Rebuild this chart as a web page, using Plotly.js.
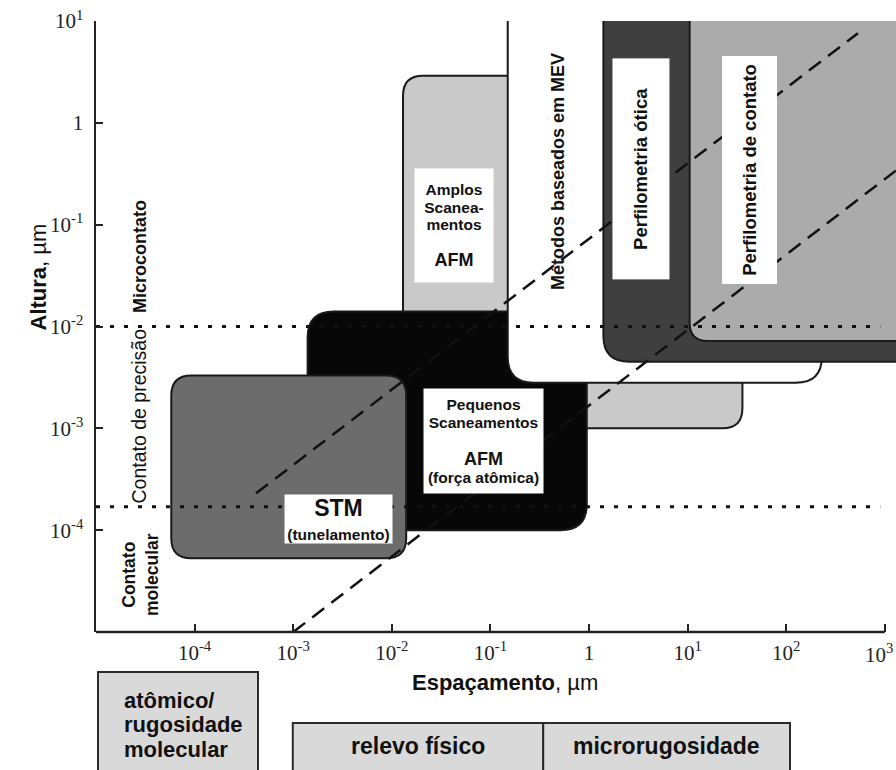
<!DOCTYPE html>
<html>
<head>
<meta charset="utf-8">
<script src="https://cdn.plot.ly/plotly-3.0.1.min.js"></script>
<style>html,body{margin:0;padding:0;background:#fff}</style>
</head>
<body>
<div id="myGraph" style="width:896px;height:770px"></div>
<script>
//ranges covered by each technique, in µm (x = espaçamento, y = altura)
const techniques = ["Amplos Scaneamentos AFM", "Pequenos Scaneamentos AFM", "STM",
  "Métodos baseados em MEV", "Perfilometria ótica", "Perfilometria de contato"];
const spacingMin = [1.3e-2, 1.4e-3, 5.8e-5, 0.15, 1.4, 10.5];
const spacingMax = [36, 0.95, 1.4e-2, 230, 1e4, 1e4];
const heightMin = [1e-3, 1e-4, 5.3e-5, 2.8e-3, 4.5e-3, 7.2e-3];
const heightMax = [2.9, 1.4e-2, 3.3e-3, 100, 40, 40];

//limits between contact regimes (altura, µm)
const contactLimits = [1e-2, 1.7e-4];
const contactSpan = [1e-5, 900];

//the two dashed diagonal lines
const lineAx = [4.2e-4, 535];
const lineAy = [2.3e-4, 7.6];
const lineBx = [1e-3, 1300];
const lineBy = [1e-5, 0.34];

//tick labels (the last x label sits at the right edge, drawn separately below)
const xTickVals = [1e-4, 1e-3, 1e-2, 1e-1, 1, 10, 100, 1000];
const xTickText = ["10<sup>-4</sup>", "10<sup>-3</sup>", "10<sup>-2</sup>", "10<sup>-1</sup>", "1",
  "10<sup>1</sup>", "10<sup>2</sup>", ""];
const lastXLabel = "10<sup>3</sup>";
const yTickVals = [10, 1, 1e-1, 1e-2, 1e-3, 1e-4];
const yTickText = ["10<sup>1</sup>", "1", "10<sup>-1</sup>", "10<sup>-2</sup>", "10<sup>-3</sup>", "10<sup>-4</sup>"];

//box styles (fill colour and corner radius in px)
const boxStyle = {
  "Amplos Scaneamentos AFM": {fill: "#c9c9c9", r: 20},
  "Pequenos Scaneamentos AFM": {fill: "#070707", r: 26},
  "STM": {fill: "#6c6c6c", r: 20},
  "Métodos baseados em MEV": {fill: "#ffffff", r: 26},
  "Perfilometria ótica": {fill: "#3f3f3f", r: 26},
  "Perfilometria de contato": {fill: "#ababab", r: 18},
};

const W = 896, H = 770;
const margin = {l: 96, r: 0, t: 21, b: 138, pad: 0};
const xRange = [-5, 3.114];
const yRange = [-5, 1];
const decX = (xRange[1] - xRange[0]) / (W - margin.l - margin.r);
const decY = (yRange[1] - yRange[0]) / (H - margin.t - margin.b);

//rounded rectangle path in data values (log axes)
function roundedBox(x0, x1, y0, y1, r) {
  const a = Math.log10(x0), b = Math.log10(x1), c = Math.log10(y0), d = Math.log10(y1);
  const rx = r * decX, ry = r * decY;
  const p = (lx, ly) => Math.pow(10, lx).toPrecision(6) + "," + Math.pow(10, ly).toPrecision(6);
  return "M" + p(a + rx, d) + " L" + p(b - rx, d) + " Q" + p(b, d) + " " + p(b, d - ry) +
    " L" + p(b, c + ry) + " Q" + p(b, c) + " " + p(b - rx, c) +
    " L" + p(a + rx, c) + " Q" + p(a, c) + " " + p(a, c + ry) +
    " L" + p(a, d - ry) + " Q" + p(a, d) + " " + p(a + rx, d) + " Z";
}

let shapes = [];
techniques.forEach((name, i) => {
  shapes.push({
    type: "path", xref: "x", yref: "y", layer: "below",
    path: roundedBox(spacingMin[i], spacingMax[i], heightMin[i], heightMax[i], boxStyle[name].r),
    fillcolor: boxStyle[name].fill,
    line: {color: "#1a1a1a", width: 2},
  });
});

//x axis line stops at 10^3
const lastTickPaper = (Math.log10(xTickVals[xTickVals.length - 1]) - xRange[0]) / (xRange[1] - xRange[0]);
shapes.push({
  type: "line", xref: "paper", yref: "paper", layer: "above",
  x0: 0, x1: lastTickPaper, y0: 0, y1: 0,
  line: {color: "#222", width: 2.5},
});

//category boxes under the x axis
const grayBox = {type: "rect", xref: "paper", yref: "paper", fillcolor: "#d9d9d9",
  line: {color: "#2a2a2a", width: 2}, layer: "above"};
shapes.push(Object.assign({}, grayBox, {x0: 0.0025, x1: 0.2025, y0: -0.0655, y1: -0.26}));
shapes.push(Object.assign({}, grayBox, {x0: 0.246, x1: 0.559, y0: -0.149, y1: -0.26}));
shapes.push(Object.assign({}, grayBox, {x0: 0.559, x1: 0.8675, y0: -0.149, y1: -0.26}));

let data = [];
contactLimits.forEach(v => {
  data.push({
    x: contactSpan, y: [v, v], type: "scatter", mode: "lines", hoverinfo: "skip",
    line: {color: "#111", width: 3, dash: "4px,10px"},
  });
});
[[lineAx, lineAy], [lineBx, lineBy]].forEach(([lx, ly]) => {
  data.push({
    x: lx, y: ly, type: "scatter", mode: "lines", hoverinfo: "skip",
    line: {color: "#111", width: 2.5, dash: "15px,9px"},
  });
});

const sans = "Liberation Sans, Arial, sans-serif";
const tickFont = {family: "Liberation Serif, Times New Roman, serif", size: 21, color: "#222"};

function label(x, y, text, opts) {
  return Object.assign({
    xref: "x", yref: "y", x: x, y: y, text: text, showarrow: false,
    font: {family: sans, size: 18, weight: "bold", color: "#111"},
  }, opts);
}
function whiteBox(x, y, w, h, text, size, angle) {
  return label(x, y, text, {bgcolor: "#ffffff", width: w, height: h, borderpad: 0,
    textangle: angle || 0, font: {family: sans, size: size, weight: "bold", color: "#111"}});
}
function paperText(x, y, text, size, anchor) {
  return {xref: "paper", yref: "paper", x: x, y: y, text: text, showarrow: false,
    xanchor: anchor || "center", yanchor: "middle",
    font: {family: sans, size: size, weight: "bold", color: "#111"}};
}
const s = (px, t) => "<span style='font-size:" + px + "px'>" + t + "</span>";

let annotations = [
  //axis titles
  {xref: "paper", yref: "paper", x: 0.511, y: -0.1064, showarrow: false,
    text: "<b>Espaçamento</b>, µm", font: {family: sans, size: 22, color: "#111"}},
  {xref: "paper", yref: "paper", x: -0.09, y: 0.581, showarrow: false, textangle: -90,
    text: "<b>Altura</b>, µm", font: {family: sans, size: 22, color: "#111"}},
  //last x tick label, pulled in from the right edge
  {xref: "paper", yref: "paper", x: lastTickPaper, y: 0, xanchor: "right", yanchor: "top",
    xshift: 10, yshift: -6, showarrow: false, text: lastXLabel, font: tickFont},
  //contact regimes
  label(-4.554, -1.308, "Microcontato", {textangle: -90}),
  label(-4.559, -2.879, "Contato de precisão", {textangle: -90,
    font: {family: sans, size: 19.5, color: "#111"}}),
  label(-4.554, -4.431, "Contato<br>molecular", {textangle: -90,
    font: {family: sans, size: 17.5, weight: "bold", color: "#111"}}),
  //techniques
  label(-0.314, -0.483, "Métodos baseados em MEV", {textangle: -90}),
  whiteBox(0.527, -0.453, 220, 56, "Perfilometria ótica", 18.5, -90),
  whiteBox(1.633, -0.458, 227, 54, "Perfilometria de contato", 18.5, -90),
  whiteBox(-1.369, -1.008, 78, 113,
    s(15.5, "Amplos") + "<br>" + s(15.5, "Scanea-") + "<br>" + s(15.5, "mentos") + "<br><br>" + s(18, "AFM"), 13.5),
  whiteBox(-1.070, -3.125, 119, 104,
    s(15.5, "Pequenos") + "<br>" + s(15.5, "Scaneamentos") + "<br><br>" + s(18, "AFM") + "<br>" + s(15.5, "(força atômica)"), 14),
  whiteBox(-2.541, -3.890, 107, 48, s(23, "STM") + "<br>" + s(15.5, "(tunelamento)"), 18),
  //category boxes
  paperText(0.0325, -0.1113, "atômico/", 22, "left"),
  paperText(0.0325, -0.1522, "rugosidade", 22, "left"),
  paperText(0.0325, -0.1931, "molecular", 22, "left"),
  paperText(0.4025, -0.1866, "relevo físico", 23),
  paperText(0.7125, -0.1866, "microrugosidade", 23),
];

const layout = {
  width: W, height: H, margin: margin,
  paper_bgcolor: "#fff", plot_bgcolor: "rgba(0,0,0,0)",
  showlegend: false,
  xaxis: {
    type: "log", range: xRange, tickmode: "array", tickvals: xTickVals, ticktext: xTickText,
    ticks: "inside", ticklen: 8, tickwidth: 2, tickcolor: "#222",
    showline: false, showgrid: false, zeroline: false,
    tickfont: tickFont, ticklabelstandoff: 6, fixedrange: true,
  },
  yaxis: {
    type: "log", range: yRange, tickmode: "array", tickvals: yTickVals, ticktext: yTickText,
    ticks: "inside", ticklen: 7, tickwidth: 2, tickcolor: "#222",
    showline: true, linewidth: 2.5, linecolor: "#222", ticklabeloverflow: "allow",
    showgrid: false, zeroline: false,
    tickfont: tickFont, ticklabelstandoff: 6, fixedrange: true,
  },
  shapes: shapes,
  annotations: annotations,
};

Plotly.newPlot("myGraph", data, layout, {displayModeBar: false, staticPlot: true});
</script>
</body>
</html>
